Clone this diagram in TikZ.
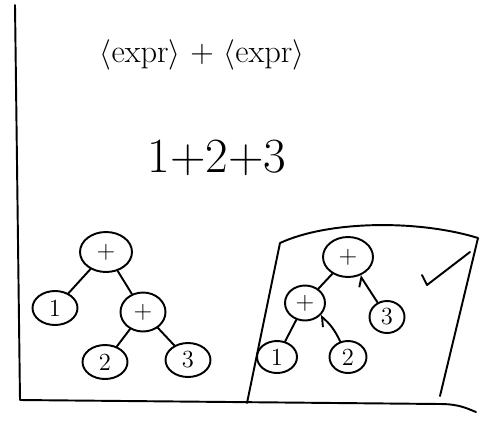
\documentclass[tikz,border=0pt]{standalone}
\usepackage{amsmath,amssymb}
\usepackage{tikz}
\usetikzlibrary{arrows.meta,shapes.geometric}

\begin{document}
\begin{tikzpicture}[x=0.02cm,y=-0.02cm,line width=1.1pt,line cap=round,line join=round,
  tnode/.style={ellipse,draw,inner sep=0pt,minimum width=0.9cm,minimum height=0.68cm,font=\fontsize{14}{16}\selectfont},
  hook/.style={-{Straight Barb[left,length=4pt]}}]
\useasboundingbox (0,0) rectangle (490,423);

% frame
\coordinate (ftop) at (15,5);
\coordinate (fcorner) at (20,400);
\coordinate (fend) at (476,412);
\draw (ftop) -- (fcorner) -- (440,404) .. controls (460,404) and (468,409) .. (fend);

% grammar and input
\node (rule) at (202,55) {\fontsize{18.5}{22}\selectfont $\langle$expr$\rangle$ + $\langle$expr$\rangle$};
\node (input) at (217,158) {\fontsize{28}{32}\selectfont 1+2+3};

% left tree
\node[tnode,minimum width=1.04cm,minimum height=0.8cm] (lroot) at (106,252) {+};
\node[tnode] (lone) at (55,308) {1};
\node[tnode,minimum height=0.78cm] (lplus) at (143,312) {+};
\node[tnode] (ltwo) at (105,362) {2};
\node[tnode] (lthree) at (188,360) {3};

\draw (lroot) -- (lone);
\draw (lroot) -- (lplus);
\draw (lplus) -- (ltwo);
\draw (lplus) -- (lthree);

% right tree, boxed
\coordinate (btl) at (280,243);
\coordinate (btr) at (478,238);
\coordinate (bbr) at (440,396);
\coordinate (bbl) at (247,403);
\draw (bbl) -- (btl) .. controls (330,220) and (420,220) .. (btr) -- (bbr);

\node[tnode,minimum width=1cm,minimum height=0.8cm] (rroot) at (348,257) {+};
\node[tnode,minimum width=0.8cm,minimum height=0.7cm] (rplus) at (305,303) {+};
\node[tnode,minimum width=0.7cm,minimum height=0.64cm] (rthree) at (387,317) {3};
\node[tnode,minimum width=0.8cm,minimum height=0.64cm] (rone) at (277,357) {1};
\node[tnode,minimum width=0.74cm,minimum height=0.64cm] (rtwo) at (348,357) {2};

\draw (rroot) -- (rplus);
\draw (rplus) -- (rone);
\draw[hook] (rthree) -- (rroot);
\draw[hook] (rtwo) to[bend right=12] (rplus);

% check mark
\draw (422,275) -- (427,285) -- (470,252);
\end{tikzpicture}
\end{document}
